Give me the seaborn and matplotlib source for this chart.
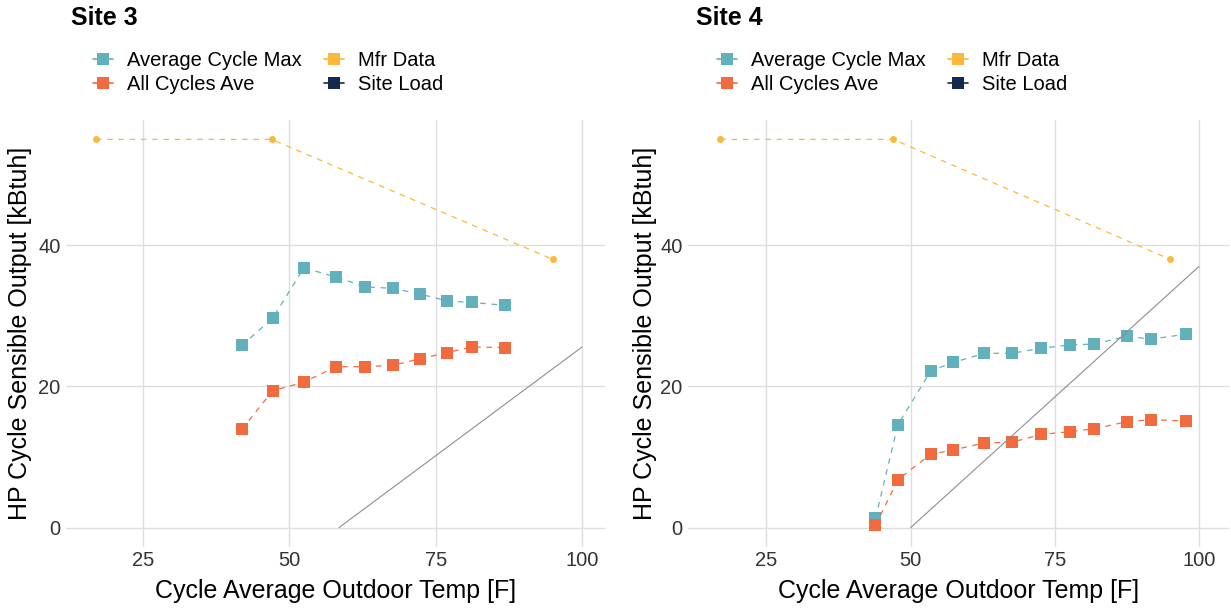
import matplotlib
matplotlib.use("Agg")
import matplotlib.pyplot as plt
from matplotlib.lines import Line2D
import seaborn as sns

# ---- data -------------------------------------------------------------
mfr_temp = [17, 47, 95]
mfr_output = [55, 55, 38]

site3_temp = [41.9, 47.2, 52.5, 58.0, 63.0, 67.7, 72.3, 77.0, 81.2, 86.8]
site3_cycle_max = [25.8, 29.7, 36.8, 35.5, 34.1, 33.9, 33.1, 32.1, 31.9, 31.5]
site3_cycle_ave = [13.9, 19.4, 20.6, 22.8, 22.8, 23.0, 23.9, 24.8, 25.6, 25.5]
site3_load_temp = [58.5, 100]
site3_load = [0, 25.6]

site4_temp = [43.9, 47.8, 53.5, 57.4, 62.8, 67.6, 72.6, 77.7, 81.8, 87.5, 91.7, 97.7]
site4_cycle_max = [1.3, 14.6, 22.2, 23.4, 24.7, 24.7, 25.4, 25.9, 26.0, 27.1, 26.7, 27.4]
site4_cycle_ave = [0.3, 6.8, 10.4, 11.0, 12.0, 12.1, 13.2, 13.6, 14.0, 15.0, 15.3, 15.1]
site4_load_temp = [50, 100]
site4_load = [0, 37]

series_names = ["Average Cycle Max", "All Cycles Ave", "Mfr Data", "Site Load"]
x_ticks = [25, 50, 75, 100]
y_ticks = [0, 20, 40]

# ---- style ------------------------------------------------------------
sns.set_theme(style="whitegrid")
plt.rcParams["font.family"] = ["Liberation Sans", "DejaVu Sans"]

C_MAX = "#62B0BB"
C_AVE = "#F26B3F"
C_MFR = "#FDB83A"
C_LOAD = "#14294B"
C_LOAD_LINE = "#8E8E8E"
GRID = "#DEDEDE"
DASH = (0, (4.5, 4.5))
SQ = 9.0

W, H = 1231, 609
fig = plt.figure(figsize=(W / 100, H / 100), dpi=100)


def px_axes(x0, x1, y0, y1):
    return fig.add_axes([x0 / W, 1 - y1 / H, (x1 - x0) / W, (y1 - y0) / H])


def draw_panel(ax, title, title_x, temp, cmax, cave, load_t, load_v, xlim,
               ylab_x, legend_x):
    sns.lineplot(x=temp, y=cmax, ax=ax, color=C_MAX, marker="s",
                 markersize=SQ, markeredgewidth=0, linestyle=DASH,
                 linewidth=0.9, zorder=3)
    sns.lineplot(x=temp, y=cave, ax=ax, color=C_AVE, marker="s",
                 markersize=SQ, markeredgewidth=0, linestyle=DASH,
                 linewidth=0.9, zorder=4)
    sns.lineplot(x=mfr_temp, y=mfr_output, ax=ax, color=C_MFR, marker="o",
                 markersize=5, markeredgewidth=0, linestyle=DASH,
                 linewidth=0.9, zorder=3)
    sns.lineplot(x=load_t, y=load_v, ax=ax, color=C_LOAD_LINE,
                 linewidth=0.8, zorder=5)

    ax.set_xlim(*xlim)
    ax.set_ylim(-2.75, 57.75)
    ax.set_xticks(x_ticks)
    ax.set_yticks(y_ticks)
    ax.tick_params(axis="both", length=0, labelsize=14.5, colors="#333333")
    ax.tick_params(axis="x", pad=3)
    ax.tick_params(axis="y", pad=4)
    ax.grid(True, color=GRID, linewidth=1.0)
    for s in ax.spines.values():
        s.set_visible(False)
    ax.set_facecolor("white")

    ax.set_xlabel("Cycle Average Outdoor Temp [F]", fontsize=18, color="black")
    ax.set_ylabel("HP Cycle Sensible Output [kBtuh]", fontsize=18, color="black")
    ax.xaxis.label.set_verticalalignment("center")
    ax.xaxis.set_label_coords(0.5, -0.103)
    ax.yaxis.label.set_verticalalignment("center")
    ax.yaxis.set_label_coords(ylab_x, 0.5)

    fig.text(title_x / W, 1 - 18 / H, title, fontsize=18, fontweight="bold",
             va="center", ha="left", color="black")

    colors = [C_MAX, C_AVE, C_MFR, C_LOAD]
    handles = [Line2D([0], [0], color=c, marker="s", markersize=SQ,
                      markeredgewidth=0, linewidth=1.2) for c in colors]
    leg = ax.legend(handles, series_names, ncol=2, frameon=False, fontsize=14.5,
                    loc="upper left", bbox_to_anchor=(legend_x / W, 1 - 51 / H),
                    bbox_transform=fig.transFigure, borderpad=0, borderaxespad=0,
                    handlelength=1.0, handletextpad=0.7, columnspacing=1.1,
                    labelspacing=0.27)
    for t in leg.get_texts():
        t.set_color("black")


ax3 = px_axes(66, 605, 120, 547)
draw_panel(ax3, "Site 3", 71, site3_temp, site3_cycle_max, site3_cycle_ave,
           site3_load_temp, site3_load, (11.9, 103.9), -0.0853, 93)

ax4 = px_axes(688, 1229, 120, 547)
draw_panel(ax4, "Site 4", 696, site4_temp, site4_cycle_max, site4_cycle_ave,
           site4_load_temp, site4_load, (11.4, 105.2), -0.0804, 717)

fig.savefig("out.png", dpi=100, facecolor="white")
